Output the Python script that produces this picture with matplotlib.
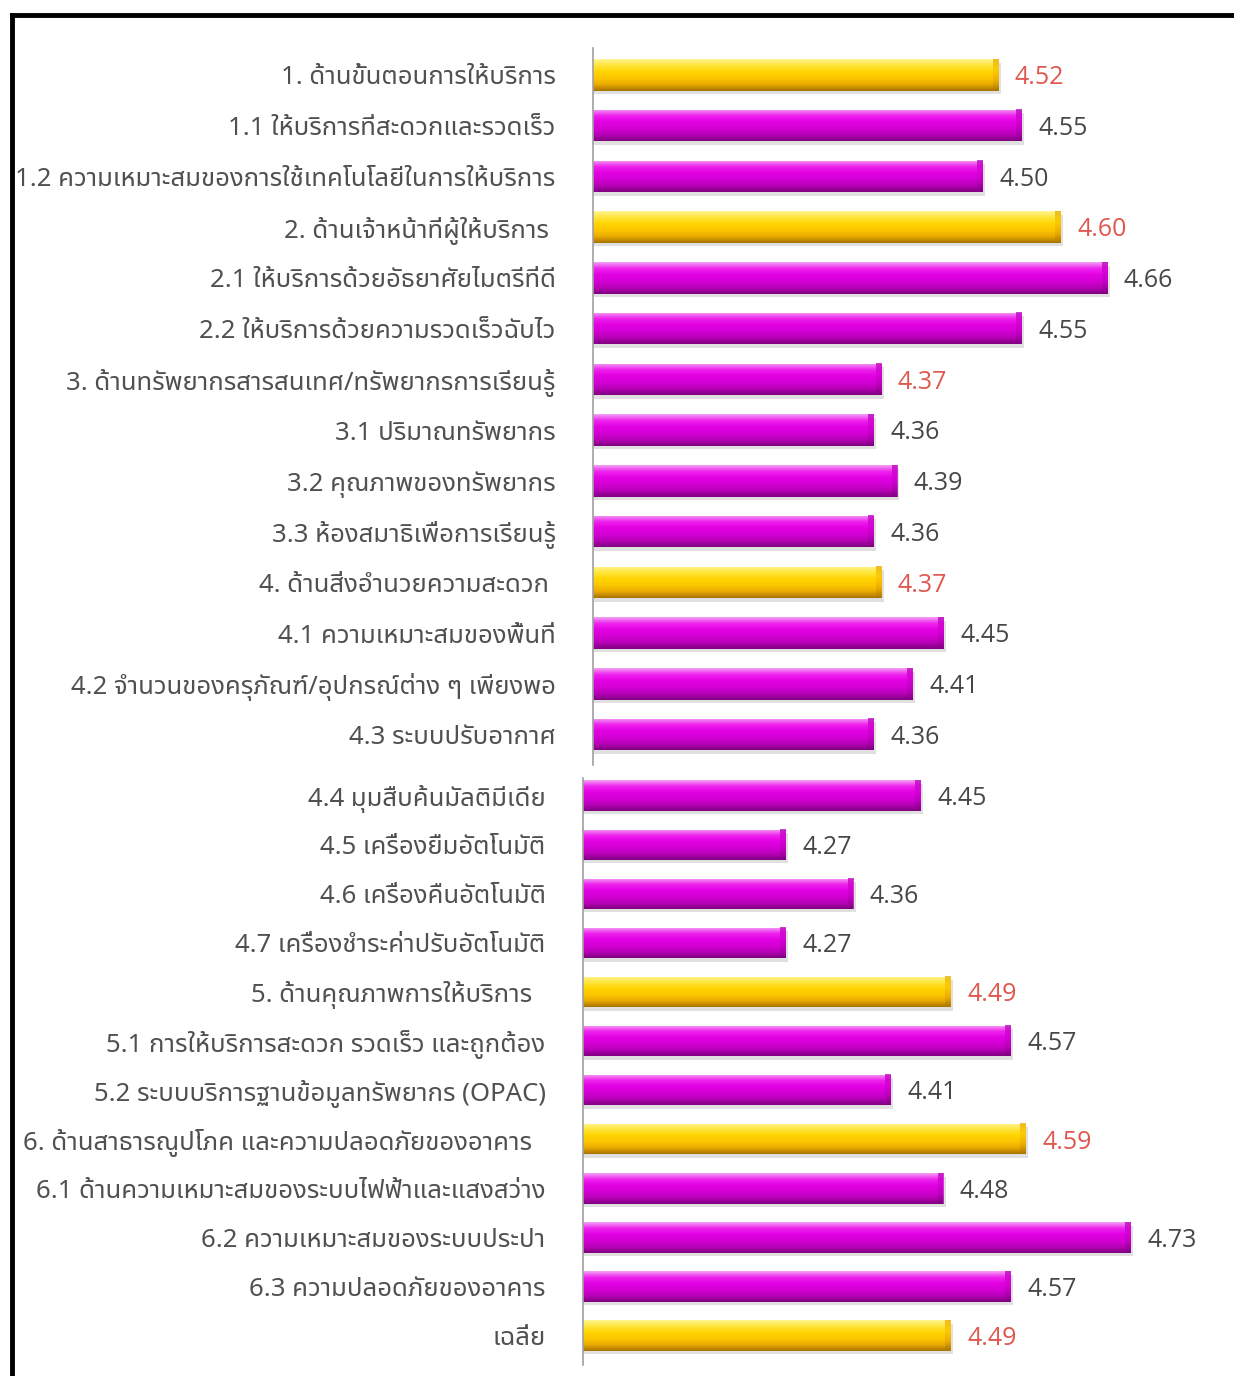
import matplotlib
matplotlib.use("Agg")
import matplotlib.pyplot as plt
import numpy as np
from matplotlib import font_manager
from matplotlib.colors import to_rgb
from matplotlib.lines import Line2D

# ---- data ----
labels_top = [
    "1. ด้านขั้นตอนการให้บริการ",
    "1.1 ให้บริการที่สะดวกและรวดเร็ว",
    "1.2 ความเหมาะสมของการใช้เทคโนโลยีในการให้บริการ",
    "2. ด้านเจ้าหน้าที่ผู้ให้บริการ ",
    "2.1 ให้บริการด้วยอัธยาศัยไมตรีที่ดี",
    "2.2 ให้บริการด้วยความรวดเร็วฉับไว",
    "3. ด้านทรัพยากรสารสนเทศ/ทรัพยากรการเรียนรู้",
    "3.1 ปริมาณทรัพยากร",
    "3.2 คุณภาพของทรัพยากร",
    "3.3 ห้องสมาธิเพื่อการเรียนรู้",
    "4. ด้านสิ่งอำนวยความสะดวก ",
    "4.1 ความเหมาะสมของพื้นที่",
    "4.2 จำนวนของครุภัณฑ์/อุปกรณ์ต่าง ๆ เพียงพอ",
    "4.3 ระบบปรับอากาศ",
]
values_top = [4.52, 4.55, 4.50, 4.60, 4.66, 4.55, 4.37,
              4.36, 4.39, 4.36, 4.37, 4.45, 4.41, 4.36]
gold_top = [1, 0, 0, 1, 0, 0, 0, 0, 0, 0, 1, 0, 0, 0]
red_top = [1, 0, 0, 1, 0, 0, 1, 0, 0, 0, 1, 0, 0, 0]

labels_bottom = [
    "4.4 มุมสืบค้นมัลติมีเดีย",
    "4.5 เครื่องยืมอัตโนมัติ",
    "4.6 เครื่องคืนอัตโนมัติ",
    "4.7 เครื่องชำระค่าปรับอัตโนมัติ",
    "5. ด้านคุณภาพการให้บริการ  ",
    "5.1 การให้บริการสะดวก รวดเร็ว และถูกต้อง",
    "5.2 ระบบบริการฐานข้อมูลทรัพยากร (OPAC)",
    "6. ด้านสาธารณูปโภค และความปลอดภัยของอาคาร  ",
    "6.1 ด้านความเหมาะสมของระบบไฟฟ้าและแสงสว่าง",
    "6.2 ความเหมาะสมของระบบประปา",
    "6.3 ความปลอดภัยของอาคาร",
    "เฉลี่ย",
]
values_bottom = [4.45, 4.27, 4.36, 4.27, 4.49, 4.57,
                 4.41, 4.59, 4.48, 4.73, 4.57, 4.49]
gold_bottom = [0, 0, 0, 0, 1, 0, 0, 1, 0, 0, 0, 1]
red_bottom = [0, 0, 0, 0, 1, 0, 0, 1, 0, 0, 0, 1]

# ---- fonts ----
names = {f.name for f in font_manager.fontManager.ttflist}
thai = next((n for n in ["Noto Sans Thai", "Sarabun", "Bai Jamjuree", "Athiti"]
             if n in names), "DejaVu Sans")
plt.rcParams['font.family'] = [thai, 'DejaVu Sans']

MAGENTA = ["#f4a0f4", "#ee22ee", "#e200e2", "#d400d4", "#b800b8", "#800080"]
GOLD = ["#fff490", "#ffe63a", "#ffd400", "#fcc600", "#eaaa00", "#a87400"]
BAR_H = 0.62


def gradient(stops, n=64):
    cols = np.array([to_rgb(c) for c in stops])
    t = np.linspace(0, 1, len(stops))
    s = np.linspace(0, 1, n)
    return np.stack([np.interp(s, t, cols[:, k]) for k in range(3)], axis=1)[:, None, :]


def draw_panel(ax, labels, values, gold, red, xmax, ytop, ybot):
    rows = np.arange(len(labels))
    x0 = 4.0
    span = xmax - x0
    # soft shadow under each bar
    ax.barh(rows + 0.07, np.array(values) + span * 0.004, height=BAR_H,
            color="#9a9a9a", alpha=0.3, zorder=1, linewidth=0)
    bars = ax.barh(rows, values, height=BAR_H, color="none", zorder=2, linewidth=0)
    for r, v, g, bar in zip(rows, values, gold, bars):
        stops = GOLD if g else MAGENTA
        im = ax.imshow(gradient(stops), extent=[x0, v, r + BAR_H / 2, r - BAR_H / 2],
                       aspect="auto", interpolation="bilinear", zorder=3)
        im.set_clip_path(bar)
        # darker bevelled end
        cap = gradient([stops[-2], stops[-3], stops[-2], stops[-1]])
        ax.imshow(cap, extent=[v - span * 0.008, v, r + BAR_H / 2, r - BAR_H / 2],
                  aspect="auto", interpolation="bilinear", zorder=4, alpha=0.75)
    for r, v, rd in zip(rows, values, red):
        ax.annotate(f"{v:.2f}", (v, r), xytext=(12, -2), textcoords="offset points",
                    va="center", ha="left", fontsize=18,
                    color="#e0574f" if rd else "#474747",
                    family=["Open Sans", "DejaVu Sans"])
    ax.set_xlim(x0, xmax)
    ax.set_ylim(ybot, ytop)
    ax.set_yticks(rows, labels, fontsize=18.5, color="#505050", fontweight="light")
    ax.tick_params(axis="y", length=0, pad=27)
    ax.set_xticks([])
    for s in ["top", "right", "bottom"]:
        ax.spines[s].set_visible(False)
    ax.spines["left"].set_color("#a0a0a0")
    ax.spines["left"].set_linewidth(1.2)
    ax.spines["left"].set_zorder(5)


fig = plt.figure(figsize=(12.34, 13.76), dpi=100)
W, H = 1234, 1376

ax1 = fig.add_axes([593 / W, 1 - 765 / H, (W - 593) / W, (765 - 48) / H])
draw_panel(ax1, labels_top, values_top, gold_top, red_top, 4.0 + 641 / 779, -0.53, 13.6)

ax2 = fig.add_axes([583 / W, 1 - 1365 / H, (W - 583) / W, (1365 - 778) / H])
draw_panel(ax2, labels_bottom, values_bottom, gold_bottom, red_bottom,
           4.0 + 651 / 750, -0.36, 11.6)

# frame lines (top and left)
fig.add_artist(Line2D([12 / W, 1], [1 - 15 / H, 1 - 15 / H], color="black", lw=3.5,
                      transform=fig.transFigure, zorder=10))
fig.add_artist(Line2D([12 / W, 12 / W], [0, 1 - 15 / H], color="black", lw=3.5,
                      transform=fig.transFigure, zorder=10))

fig.savefig("out.png", dpi=100)
